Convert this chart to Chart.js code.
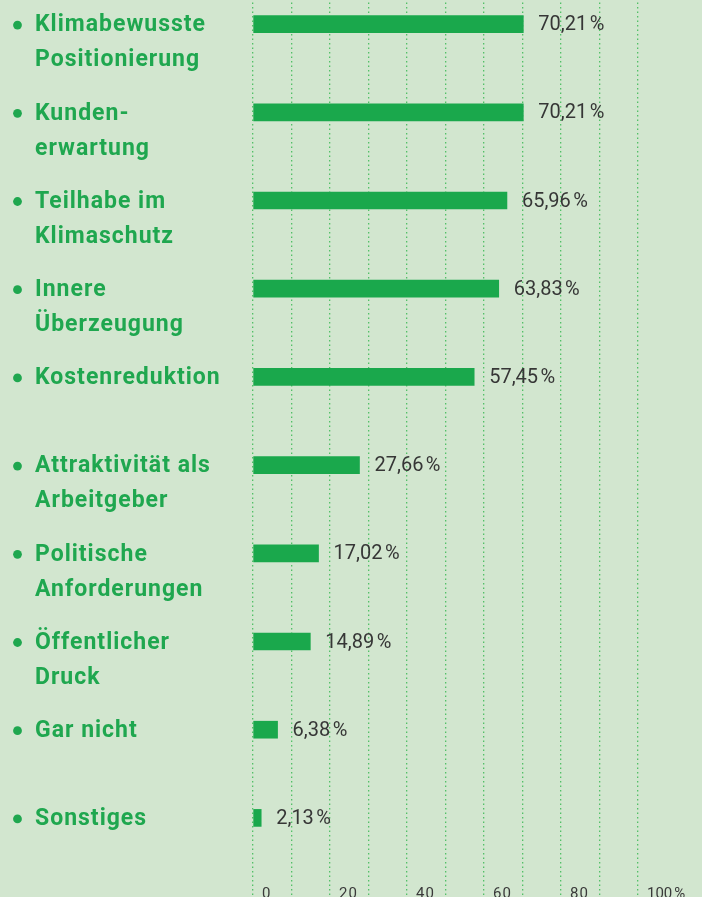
<!DOCTYPE html>
<html><head><meta charset="utf-8">
<script src="https://cdn.jsdelivr.net/npm/chart.js@4.4.1/dist/chart.umd.min.js"></script>
<style>
html,body{margin:0;padding:0;width:702px;height:897px;overflow:hidden;background:#d2e6cf;}
#wrap{position:absolute;left:0;top:-20px;width:702px;height:940px;}
</style></head><body>
<div id="wrap"><canvas id="c" width="702" height="940"></canvas></div>
<script>
// ---- data ----
const categories = [
  ['Klimabewusste', 'Positionierung'],
  ['Kunden-', 'erwartung'],
  ['Teilhabe im', 'Klimaschutz'],
  ['Innere', 'Überzeugung'],
  ['Kostenreduktion'],
  ['Attraktivität als', 'Arbeitgeber'],
  ['Politische', 'Anforderungen'],
  ['Öffentlicher', 'Druck'],
  ['Gar nicht'],
  ['Sonstiges']
];
const values = [70.21, 70.21, 65.96, 63.83, 57.45, 27.66, 17.02, 14.89, 6.38, 2.13];
const xTickLabels = ['0', '', '20', '', '40', '', '60', '', '80', '', '100\u202F%'];

// ---- derived ----
const valueLabels = values.map(v => v.toFixed(2).replace('.', ',') + '\u202F%');
const yLabels = categories.map(l => l.length > 1 ? [''].concat(l) : l);

const GREEN = '#1aa84c';
const LABEL_GREEN = '#1fa74f';

const spacingPlugin = {
  id: 'spacing',
  beforeDraw(chart) { chart.ctx.letterSpacing = '1px'; },
  beforeDatasetsDraw(chart) { chart.ctx.letterSpacing = '0px'; }
};
const valuePlugin = {
  id: 'values',
  afterDatasetsDraw(chart) {
    const ctx = chart.ctx;
    const meta = chart.getDatasetMeta(0);
    ctx.save();
    ctx.font = '400 20px Roboto';
    ctx.fillStyle = '#363636';
    ctx.textBaseline = 'middle';
    ctx.textAlign = 'left';
    meta.data.forEach((bar, i) => {
      ctx.fillText(valueLabels[i], bar.x + 15, bar.y + 1);
    });
    ctx.restore();
  }
};
const bulletPlugin = {
  id: 'bullets',
  afterDraw(chart) {
    const ctx = chart.ctx;
    const ys = chart.scales.y;
    ctx.save();
    ctx.fillStyle = LABEL_GREEN;
    ys.ticks.forEach((t, i) => {
      const py = ys.getPixelForTick(i);
      ctx.beginPath();
      ctx.arc(17.5, py + 1, 4.4, 0, Math.PI * 2);
      ctx.fill();
    });
    ctx.restore();
  }
};

function build() {
  new Chart(document.getElementById('c'), {
    type: 'bar',
    data: {
      labels: yLabels,
      datasets: [{
        data: values,
        backgroundColor: GREEN,
        borderWidth: 0,
        barThickness: 17
      }]
    },
    options: {
      indexAxis: 'y',
      responsive: false,
      animation: false,
      devicePixelRatio: 1,
      layout: { padding: { left: 35, right: 64, top: 0, bottom: 0 } },
      plugins: { legend: { display: false }, tooltip: { enabled: false } },
      scales: {
        x: {
          min: 0, max: 100,
          afterFit(s) { s.height = 58; s.paddingLeft = 0; s.paddingRight = 0; },
          border: { display: false, dash: [1.5, 3] },
          grid: {
            color: 'rgba(60,185,85,0.85)',
            lineWidth: 1.3,
            drawTicks: true,
            tickLength: 40,
            tickColor: 'rgba(60,185,85,0.85)',
            tickWidth: 1.3,
            tickBorderDash: [1.5, 3]
          },
          ticks: {
            stepSize: 10,
            autoSkip: false,
            maxRotation: 0,
            align: 'start',
            labelOffset: 9,
            padding: -17,
            color: '#3a3a3a',
            font: { family: 'Roboto', size: 15, weight: '400' },
            callback: (v, i) => xTickLabels[i]
          }
        },
        y: {
          afterFit(s) { s.width = 218; s.paddingTop = 0; s.paddingBottom = 0; },
          border: { display: false },
          grid: { display: false },
          ticks: {
            autoSkip: false,
            crossAlign: 'far',
            padding: 0,
            labelOffset: 1.5,
            color: LABEL_GREEN,
            font: { family: 'Roboto', size: 23, weight: 'bold', lineHeight: '35px' }
          }
        }
      }
    },
    plugins: [spacingPlugin, valuePlugin, bulletPlugin]
  });
}
if (document.fonts && document.fonts.load) {
  Promise.all([
    document.fonts.load('bold 23px Roboto'),
    document.fonts.load('400 20px Roboto')
  ]).then(build, build);
} else build();
</script>
</body></html>
